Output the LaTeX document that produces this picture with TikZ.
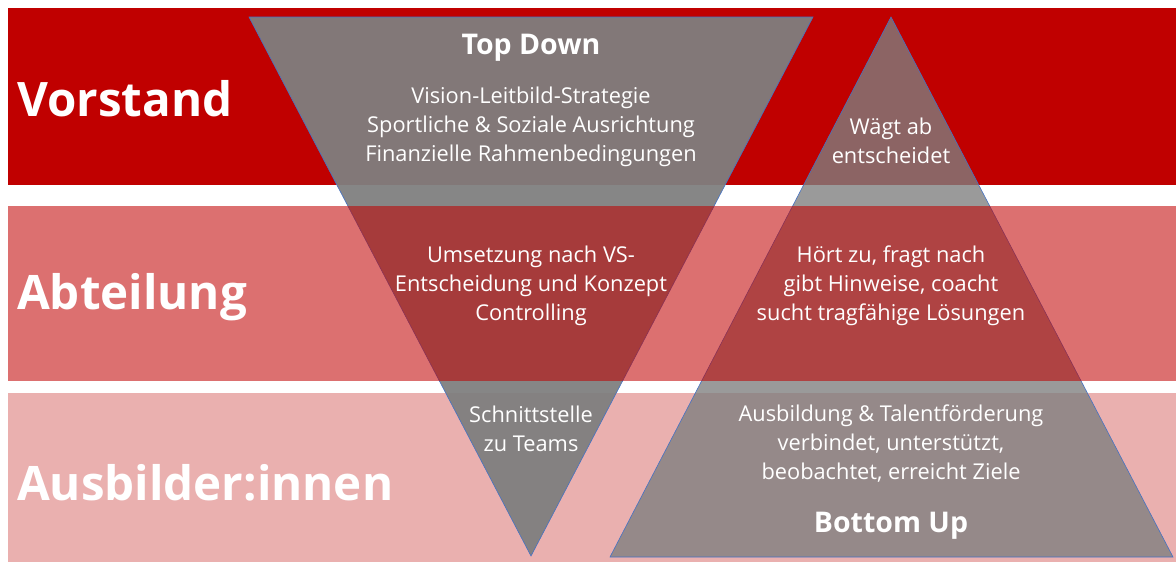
\documentclass[tikz,border=0pt]{standalone}
\usepackage{fontspec}
\setmainfont{Open Sans}
\definecolor{vsred}{HTML}{C00000}
\definecolor{lightband}{HTML}{EAB0AF}
\definecolor{trigray}{HTML}{7F7F7F}
\definecolor{edgeblue}{HTML}{4472C4}
\begin{document}
\begin{tikzpicture}[x=1pt,y=-1pt,
  band/.style={draw=none},
  tri/.style={fill=trigray,draw=edgeblue,line width=0.6pt,line join=miter},
  big/.style={text=white,anchor=west,inner sep=0pt,font=\fontsize{47.5}{52}\selectfont\bfseries},
  head/.style={text=white,inner sep=0pt,font=\fontsize{28.5}{32}\selectfont\bfseries},
  body/.style={text=white,inner sep=0pt,align=center,font=\fontsize{21.8}{29}\selectfont}]
\useasboundingbox (0,0) rectangle (1176,562);
% bands
\fill[vsred] (8,8) rectangle (1176,185);
\fill[lightband] (8,393) rectangle (1176,562);
% triangles
\path[tri,fill opacity=0.95] (249,17) coordinate (ta) -- (813,17) coordinate (tb) -- (531,556) coordinate (tc) -- cycle;
\path[tri,fill opacity=0.79] (891,17) coordinate (ua) -- (1173,557) coordinate (ub) -- (610,557) coordinate (uc) -- cycle;
% middle band on top
\fill[vsred,opacity=0.56] (8,205.5) rectangle (1176,381);
% labels
\node[big] (vorstand) at (17,99) {Vorstand};
\node[big] (abteilung) at (17,297) {Abteilung};
\node[big] (ausbilder) at (17,483) {Ausbilder:innen};
\node[head] (topdown) at (531,48) {Top Down};
\node[head] (bottomup) at (891,526) {Bottom Up};
\node[body] (vision) at (531,126.5) {Vision-Leitbild-Strategie\\Sportliche \& Soziale Ausrichtung\\Finanzielle Rahmenbedingungen};
\node[body] (waegt) at (891,141) {Wägt ab\\entscheidet};
\node[body] (umsetzung) at (531,285.5) {Umsetzung nach VS-\\Entscheidung und Konzept\\Controlling};
\node[body] (hoert) at (891,285.5) {Hört zu, fragt nach\\gibt Hinweise, coacht\\sucht tragfähige Lösungen};
\node[body] (schnitt) at (531,428.5) {Schnittstelle\\zu Teams};
\node[body] (ausbildung) at (891,443.5) {Ausbildung \& Talentförderung\\verbindet, unterstützt,\\beobachtet, erreicht Ziele};
\end{tikzpicture}
\end{document}
